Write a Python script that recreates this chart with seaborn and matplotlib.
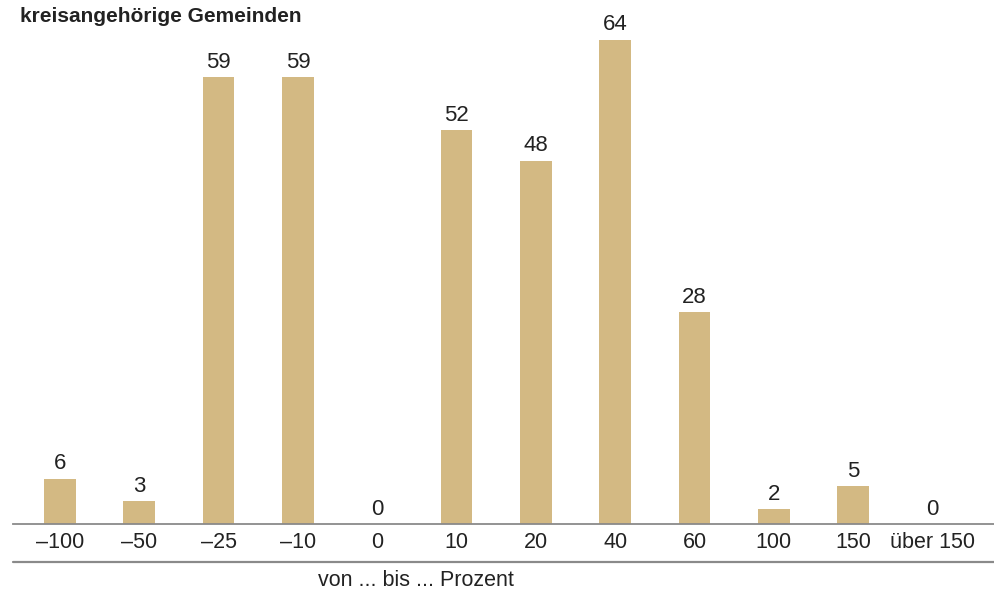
import matplotlib
matplotlib.use("Agg")
import matplotlib.pyplot as plt
import seaborn as sns
import pandas as pd
from matplotlib.lines import Line2D

# Size classes of change (percent) and number of municipalities per class
categories = ["\u2013100", "\u201350", "\u201325", "\u201310", "0", "10", "20",
              "40", "60", "100", "150", "über 150"]
counts = [6, 3, 59, 59, 0, 52, 48, 64, 28, 2, 5, 0]

title = "kreisangehörige Gemeinden"
xlabel = "von ... bis ... Prozent"

sns.set_theme(style="white")
plt.rcParams["font.family"] = ["Liberation Sans", "DejaVu Sans"]

W, H = 995, 594
fig = plt.figure(figsize=(W / 100, H / 100), dpi=100)
ax = fig.add_axes([13 / W, (H - 524) / H, (W - 13) / W, (524 - 30) / H])

df = pd.DataFrame({"Klasse": categories, "Anzahl": counts})
sns.barplot(data=df, x="Klasse", y="Anzahl", order=categories,
            color="#D3B983", saturation=1, width=0.4, linewidth=0, ax=ax)

ax.set_ylim(0, 494 / 7.57)
ax.set_xlim(-0.593, 11.79)

for container in ax.containers:
    ax.bar_label(container, labels=[str(v) for v in counts], padding=3,
                 fontsize=16, color="#222222")

for s in ["top", "right", "left"]:
    ax.spines[s].set_visible(False)
ax.spines["bottom"].set_color("#8a8a8a")
ax.spines["bottom"].set_linewidth(1.3)
ax.set_yticks([])
ax.set_ylabel("")
ax.set_xlabel("")
ax.tick_params(axis="x", length=0, pad=6, labelsize=15.5, labelcolor="#222222")

# lower rule under the class labels
fig.add_artist(Line2D([13 / W, 1], [(H - 562) / H] * 2, color="#8a8a8a",
                      linewidth=1.6, transform=fig.transFigure))

fig.text(416 / W, (H - 580) / H, xlabel, ha="center", va="center",
         fontsize=15.5, color="#222222")
fig.text(20 / W, (H - 16) / H, title, ha="left", va="center",
         fontsize=15, fontweight="bold", color="#222222")

fig.savefig("out.png", dpi=100)
